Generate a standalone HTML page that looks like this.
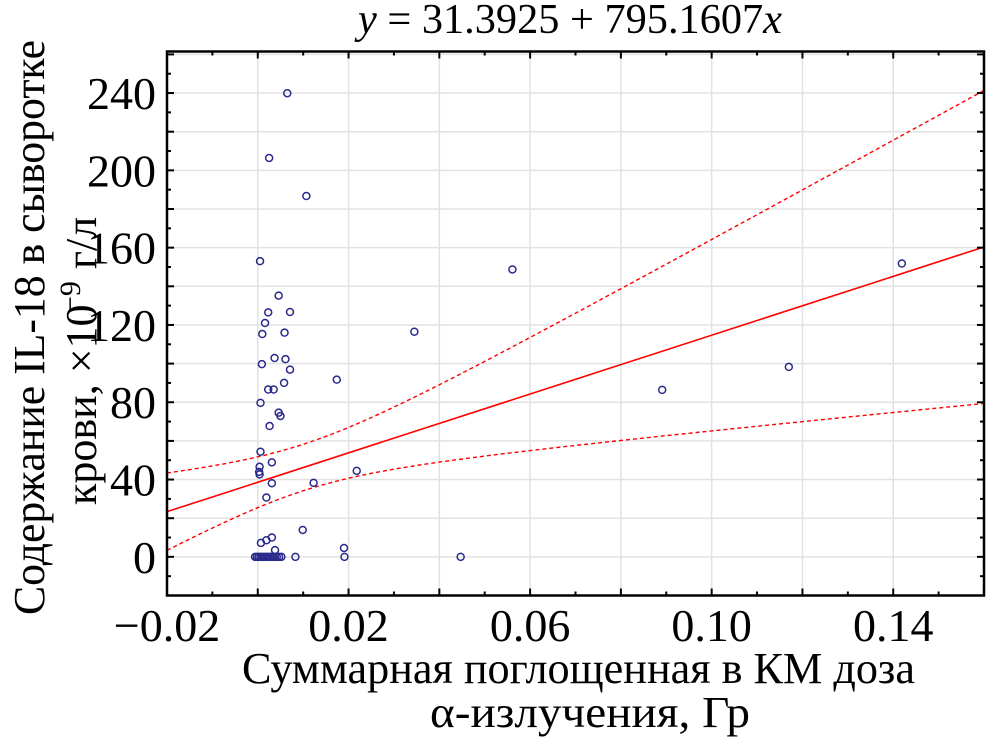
<!DOCTYPE html>
<html><head><meta charset="utf-8"><style>
body{margin:0;background:#fff;}
svg text{font-family:"Liberation Serif",serif;fill:#000;}
</style></head><body>
<svg id="chart" width="989" height="741" viewBox="0 0 989 741" xmlns="http://www.w3.org/2000/svg">
<g id="grid"></g>
<g id="fit"></g>
<g id="pts"></g>
<rect x="167" y="51.5" width="817" height="544" fill="none" stroke="#000" stroke-width="2.5"/>
<g id="ticks"></g>
<text x="358" y="33" font-size="42" textLength="424" lengthAdjust="spacingAndGlyphs"><tspan font-style="italic">y</tspan> = 31.3925 + 795.1607<tspan font-style="italic">x</tspan></text>
<text x="242" y="683" font-size="44" textLength="673" lengthAdjust="spacingAndGlyphs">Суммарная поглощенная в КМ доза</text>
<text x="430" y="727" font-size="44" textLength="320" lengthAdjust="spacingAndGlyphs">α-излучения, Гр</text>
<text transform="translate(44,615) rotate(-90)" font-size="44" textLength="575" lengthAdjust="spacingAndGlyphs">Содержание IL-18 в сыворотке</text>
<g transform="translate(96,505) rotate(-90)">
<text font-size="44" x="0" y="0">крови, ×10</text>
<text font-size="30" x="192" y="-16">−9</text>
<text font-size="44" x="236" y="0">г/л</text>
</g>
</svg>
<script>
const xTicks=[-0.02,0.02,0.06,0.10,0.14];
const xTickLabels=["−0.02","0.02","0.06","0.10","0.14"];
const yTicks=[0,40,80,120,160,200,240];
const yTickLabels=["0","40","80","120","160","200","240"];
const xVals=[0.0065,0.0025,0.0107,0.0005,0.0046,0.0023,0.0071,0.0016,0.001,0.0059,0.0037,0.0061,0.0009,0.0071,0.0174,0.0023,0.0035,0.0058,0.0006,0.0046,0.005,0.0026,0.0006,0.0031,0.0004,0.0003,0.0004,0.0031,0.0123,0.0218,0.0019,0.0099,0.0007,0.0019,0.0031,0.0038,0.019,0.0191,0.0083,0.0345,0.0561,0.0447,0.0891,0.117,0.1419,-0.0006,-0.0002,0.0002,0.0006,0.001,0.0014,0.0018,0.0022,0.0026,0.003,0.0034,0.0038,0.0042,0.0047,0.0052];
const yVals=[239.9,206.4,186.7,153,135.2,126.5,126.7,121,115.3,116,102.9,102.3,99.7,96.9,91.7,86.6,86.6,90,79.7,74.6,72.9,67.7,54.4,48.9,46.6,44,42.7,38.1,38.3,44.5,30.7,13.9,7.2,8.6,10,3.5,4.6,0,0,116.5,148.7,0,86.4,98.3,151.8,0,0,0,0,0,0,0,0,0,0,0,0,0,0,0];
const fitParams=[38.6,761];
const bandParams=[12,534,0.01];
const X0=167,X1=984,Y0=595.5,Y1=51.5,xmin=-0.02,xmax=0.16,ymin=-20,ymax=261.5;
const sx=v=>X0+(v-xmin)/(xmax-xmin)*(X1-X0);
const sy=v=>Y0-(v-ymin)/(ymax-ymin)*(Y0-Y1);
const NS="http://www.w3.org/2000/svg";
function mk(t,p,a){const e=document.createElementNS(NS,t);for(const k in a)e.setAttribute(k,a[k]);p.appendChild(e);return e;}
const grid=document.getElementById('grid'),ticks=document.getElementById('ticks'),fit=document.getElementById('fit'),pts=document.getElementById('pts');
for(let v=-0.02;v<=0.1601;v+=0.02){const x=sx(v);
 const g=mk('line',grid,{x1:x,x2:x,y1:Y1,y2:Y0,stroke:'#e2e2e2','stroke-width':1.5});
 
 }
for(let v=0;v<=260;v+=20){const y=sy(v);
 const g=mk('line',grid,{x1:X0,x2:X1,y1:y,y2:y,stroke:'#e2e2e2','stroke-width':1.5});
 
 }
for(let v=-0.02;v<=0.1601;v+=0.01){const x=sx(v);const L=Math.round(v*100)%2===0?7:4;
 const t1=mk('line',ticks,{x1:x,x2:x,y1:Y0,y2:Y0-L,stroke:'#000','stroke-width':2});
 
 
 const t2=mk('line',ticks,{x1:x,x2:x,y1:Y1,y2:Y1+L,stroke:'#000','stroke-width':2});
 
 }
for(let v=-20;v<=260;v+=10){const y=sy(v);const L=v%20===0?7:4;
 const t1=mk('line',ticks,{x1:X0,x2:X0+L,y1:y,y2:y,stroke:'#000','stroke-width':2});
 
 
 const t2=mk('line',ticks,{x1:X1,x2:X1-L,y1:y,y2:y,stroke:'#000','stroke-width':2});
 
 }
xTicks.forEach((v,i)=>{const t=mk('text',ticks,{x:sx(v),y:641,'font-size':46,'text-anchor':'middle'});t.textContent=xTickLabels[i];
 
 });
yTicks.forEach((v,i)=>{const t=mk('text',ticks,{x:156,y:sy(v)+16,'font-size':46,'text-anchor':'end'});t.textContent=yTickLabels[i];
 
 });
const line=v=>fitParams[0]+fitParams[1]*v;
const hw=v=>Math.sqrt(bandParams[0]**2+bandParams[1]**2*(v-bandParams[2])**2);
let up=[],lo=[];
for(let i=0;i<=60;i++){const v=xmin+(xmax-xmin)*i/60;up.push(sx(v)+','+sy(line(v)+hw(v)));lo.push(sx(v)+','+sy(line(v)-hw(v)));}
const fl=mk('line',fit,{x1:sx(xmin),y1:sy(line(xmin)),x2:sx(xmax),y2:sy(line(xmax)),stroke:'#f00','stroke-width':1.6});


const bu=mk('polyline',fit,{points:up.join(' '),fill:'none',stroke:'#f00','stroke-width':1.4,'stroke-dasharray':'4 3'});


const bl=mk('polyline',fit,{points:lo.join(' '),fill:'none',stroke:'#f00','stroke-width':1.4,'stroke-dasharray':'4 3'});


xVals.forEach((v,i)=>{const c=mk('circle',pts,{cx:sx(v),cy:sy(yVals[i]),r:3.5,fill:'none',stroke:'#2a2a8c','stroke-width':1.5});
 
 });
</script>
</body></html>
